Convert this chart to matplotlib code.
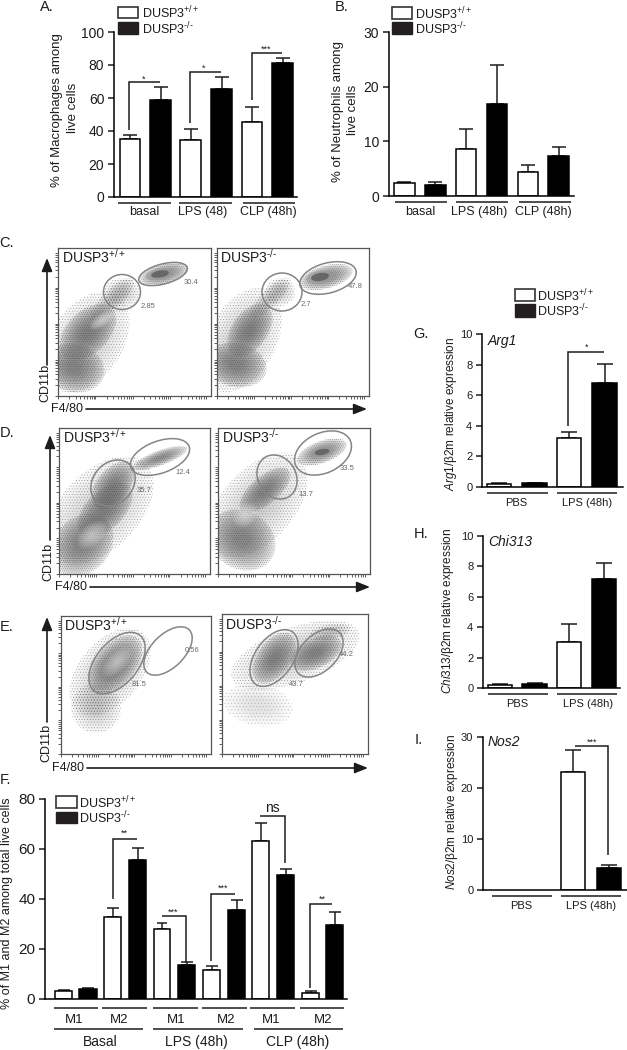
"""Multi-panel DUSP3 figure: bar charts A, B, F, G, H, I and flow panels C, D, E."""
import numpy as np
import matplotlib
matplotlib.use("Agg")
import matplotlib.pyplot as plt
from matplotlib.patches import Ellipse, Rectangle

W, H = 627, 1050
INK, GATE, DOT = "#1c1c1c", "#858585", "#6a6a6a"
plt.rcParams.update({"font.family": ["Liberation Sans", "DejaVu Sans"], "text.color": INK,
                     "mathtext.fontset": "custom", "mathtext.rm": "Liberation Sans",
                     "mathtext.it": "Liberation Sans:italic", "mathtext.default": "regular",
                     "axes.linewidth": 1.1, "xtick.color": INK, "ytick.color": INK,
                     "hatch.linewidth": 0.45})
WT, KO = "DUSP3$^{+/+}$", "DUSP3$^{\u2010/\u2010}$"

# bar values (means and upper error lengths)
A_MEAN = [35, 59, 34.5, 65.5, 45.5, 81.5]
A_ERR = [2.5, 7.5, 7, 7, 9, 2.5]
A_TICKS = [0, 20, 40, 60, 80, 100]
B_MEAN = [2.3, 2.0, 8.6, 16.8, 4.3, 7.3]
B_ERR = [0.3, 0.5, 3.6, 7.2, 1.3, 1.7]
B_TICKS = [0, 10, 20, 30]
F_MEAN = [3.3, 4.2, 33, 55.8, 28, 13.5, 11.5, 35.8, 63.3, 49.5, 2.5, 29.8]
F_ERR = [0.4, 0.3, 3.3, 4.7, 2.3, 1.3, 1.8, 3.9, 7.2, 2.7, 0.7, 5.2]
F_TICKS = [0, 20, 40, 60, 80]
G_MEAN = [0.2, 0.25, 3.2, 6.8]
G_ERR = [0.03, 0.03, 0.4, 1.25]
H_MEAN = [0.2, 0.25, 3.05, 7.15]
H_ERR = [0.05, 0.05, 1.17, 1.1]
GH_TICKS = [0, 2, 4, 6, 8, 10]
I_MEAN = [0, 0, 23.2, 4.4]
I_ERR = [0, 0, 4.3, 0.6]
I_TICKS = [0, 10, 20, 30]

# flow density patches: x, y, long, short, angle, kind
C_WT_CLOUD = [(86, 342, 112, 72, -55, "sparse"), (74, 368, 48, 62, -75, "dense"), (88, 332, 68, 42, -45, "dense"),
              (112, 300, 60, 20, -45, "sparse"), (122, 293, 36, 30, 0, "sparse"), (164, 274, 50, 21, -15, "dense"),
              (102, 320, 30, 13, -35, "hot"), (160, 274, 18, 7, -10, "core")]
C_KO_CLOUD = [(242, 340, 112, 68, -62, "sparse"), (236, 365, 44, 62, -78, "dense"), (250, 330, 60, 36, -55, "dense"),
              (270, 298, 55, 18, -45, "sparse"), (280, 292, 30, 28, 0, "sparse"), (326, 277, 55, 23, -15, "dense"),
              (320, 277, 18, 8, -10, "core")]
D_WT_CLOUD = [(100, 510, 130, 78, -45, "sparse"), (82, 545, 70, 55, -45, "dense"), (105, 510, 68, 38, -45, "dense"),
              (113, 485, 55, 32, -50, "dense"), (160, 458, 58, 15, -20, "dense"), (92, 535, 35, 22, -40, "hot")]
D_KO_CLOUD = [(258, 505, 125, 72, -48, "sparse"), (242, 540, 58, 70, -60, "dense"), (265, 490, 62, 28, -40, "dense"),
              (322, 452, 52, 22, -20, "dense"), (322, 452, 15, 6, -10, "core"), (245, 515, 28, 22, -40, "hot")]
E_WT_CLOUD = [(110, 672, 102, 62, -50, "sparse"), (96, 708, 50, 50, -60, "sparse"), (115, 665, 70, 40, -50, "dense"),
              (117, 662, 38, 20, -45, "hot")]
E_KO_CLOUD = [(295, 655, 135, 55, -20, "sparse"), (258, 705, 42, 70, -80, "faint"), (330, 632, 42, 15, -10, "sparse"),
              (274, 658, 58, 34, -55, "dense"), (316, 653, 55, 30, -25, "dense")]

# gates: x, y, long, short, angle
C_WT_GATES = [(122, 292, 37, 35, 0), (163, 274, 50, 20, -15)]
C_KO_GATES = [(282, 292, 40, 38, 0), (328, 278, 58, 30, -15)]
D_WT_GATES = [(113, 483, 50, 40, -50), (160, 457, 62, 32, -20)]
D_KO_GATES = [(277, 477, 46, 38, 60), (323, 453, 60, 40, -25)]
E_WT_GATES = [(117, 663, 72, 42, -50), (168, 651, 60, 33, -45)]
E_KO_GATES = [(274, 658, 64, 38, -55), (319, 653, 58, 36, -45)]

fig = plt.figure(figsize=(W / 100, H / 100), dpi=100, facecolor="white")


def px_axes(x0, x1, ytop, ybot, **kw):
    return fig.add_axes([x0 / W, 1 - ybot / H, (x1 - x0) / W, (ybot - ytop) / H], **kw)


ov = px_axes(0, W, 0, H, zorder=10)
ov.set_xlim(0, W); ov.set_ylim(H, 0); ov.axis("off"); ov.patch.set_alpha(0)


def txt(x, y, s, size=9.5, ha="center", **kw):
    ov.text(x, y, s, fontsize=size, ha=ha, va="center", **kw)


def seg(xs, ys, lw=1.1):
    ov.plot(xs, ys, color=INK, lw=lw, solid_capstyle="butt", solid_joinstyle="miter")


def arrow(x0, y0, x1, y1):
    ov.annotate("", xy=(x1, y1), xytext=(x0, y0),
                arrowprops=dict(arrowstyle="-|>,head_width=0.32,head_length=0.8", color=INK, lw=1.2,
                                shrinkA=0, shrinkB=0))


def legend(x0, x1, y0, y1, y2, y3, xt, size=9):
    ov.add_patch(Rectangle((x0, y0), x1 - x0, y1 - y0, fc="white", ec="#333333", lw=1.2))
    ov.add_patch(Rectangle((x0, y2), x1 - x0, y3 - y2, fc="#231f20", ec="#231f20", lw=1))
    txt(xt, (y0 + y1) / 2 + 1, WT, size, ha="left")
    txt(xt, (y2 + y3) / 2 + 1, KO, size, ha="left")


def bars(xleft, xright, y0, ytop, ymax, ticks, edges, means, errs, size=10):
    ax = px_axes(xleft, xright, ytop, y0)
    ax.set_xlim(xleft, xright); ax.set_ylim(0, ymax)
    lefts, rights = np.array(edges[0::2]), np.array(edges[1::2])
    mids, widths = (lefts + rights) / 2, rights - lefts
    cols = ["white" if i % 2 == 0 else "black" for i in range(len(means))]
    for m, w, v, e, c in zip(mids, widths, means, errs, cols):
        if v == 0:
            continue
        ax.errorbar(m, v, yerr=[[0], [e]], color=INK, lw=1.1, capsize=w * 0.24, capthick=1.1, zorder=1)
        ax.bar(m, v, w, color=c, edgecolor="black", lw=1.1, zorder=2)
    ax.set_yticks(ticks)
    ax.set_xticks([])
    ax.tick_params(axis="y", length=4, width=1.1, labelsize=size, pad=3)
    ax.spines[["top", "right"]].set_visible(False)
    ax.patch.set_alpha(0)
    return ax


def blob(ax, b):
    x, y, w, h, ang, kind = b
    if kind == "hot":
        for s in np.linspace(1, 0.15, 10):
            ax.add_patch(Ellipse((x, y), w * s, h * s, angle=ang, fc="#e8e8e8", ec="none", alpha=0.09))
        return
    if kind == "core":
        ax.add_patch(Ellipse((x, y), w * 1.6, h * 1.6, angle=ang, fc="#9a9a9a", ec="none", alpha=0.6))
        ax.add_patch(Ellipse((x, y), w, h, angle=ang, fc="#5c5c5c", ec="none", alpha=0.8))
        return
    alpha, hatch, ha = {"faint": (0.008, ".....", 0.25), "sparse": (0.02, "......", 0.42),
                        "dense": (0.07, "........", 0.5)}[kind]
    for s in np.linspace(1, 0.2, 16):
        ax.add_patch(Ellipse((x, y), w * s, h * s, angle=ang, fc=DOT, ec="none", alpha=alpha))
    ax.add_patch(Ellipse((x, y), w, h, angle=ang, fc="none", ec="#505050", lw=0, hatch=hatch, alpha=ha))


DECADES = np.array([d + np.log10(m) for d in range(4) for m in range(1, 10)]) / 4.1


def flow(x0, x1, y0, y1, cloud, gates, name, name_x, name_y, labels):
    ax = px_axes(x0, x1, y0, y1)
    ax.set_xlim(x0, x1); ax.set_ylim(y1, y0)
    for b in cloud:
        blob(ax, b)
    for x, y, w, h, a in gates:
        ax.add_patch(Ellipse((x, y), w, h, angle=a, fc="none", ec=GATE, lw=1.1))
    ax.set_xticks(x0 + DECADES * (x1 - x0)); ax.set_yticks(y1 - DECADES * (y1 - y0))
    ax.set_xticklabels([]); ax.set_yticklabels([])
    ax.tick_params(length=2, width=0.6, color="#444444")
    for s in ax.spines.values():
        s.set_color("#555555"); s.set_linewidth(0.9)
    txt(name_x, name_y, name, 10, ha="left")
    for x, y, s in labels:
        txt(x, y, s, 5.5, color="#6a6a6a")


# panel A
bars(114, 297, 197, 32, 100, A_TICKS, [119.5, 140, 150, 171, 180, 201, 211, 232, 242, 262, 272, 293], A_MEAN, A_ERR)
txt(47, 7, "A.", 10.5)
legend(118, 138, 7, 18, 22, 34, 142)
txt(57, 110, "% of Macrophages among", 9.5, rotation=90)
txt(73, 108, "live cells", 9.5, rotation=90)
for a, b, lab, x in [(118, 171, "basal", 144), (179, 232, "LPS (48)", 203), (243, 295, "CLP (48h)", 268)]:
    seg([a, b], [203, 203])
    txt(x, 212, lab, 9)
seg([129, 129, 160], [130, 82, 82]); txt(144, 79, "*", 6.5)
seg([190, 190, 221], [123, 72, 72]); txt(204, 68, "*", 6.5)
seg([252, 252, 282], [100, 53, 53]); txt(266, 49, "***", 6.5)

# panel B
bars(389, 574, 196, 32, 30, B_TICKS, [394, 415, 425, 446, 456, 476, 487, 507, 518, 538, 548, 569], B_MEAN, B_ERR)
txt(342, 7, "B.", 10.5)
legend(392, 412, 7, 19, 22, 34, 415)
txt(338, 112, "% of Neutrophils among", 9.5, rotation=90)
txt(353, 110, "live cells", 9.5, rotation=90)
for a, b, lab, x in [(395, 447, "basal", 420), (456, 508, "LPS (48h)", 479), (519, 571, "CLP (48h)", 543)]:
    seg([a, b], [202, 202])
    txt(x, 212, lab, 9)

# panels C, D, E
txt(7, 243, "C.", 10.5); txt(7, 433, "D.", 10.5); txt(7, 627, "E.", 10.5)
flow(58, 211, 248, 396, C_WT_CLOUD, C_WT_GATES, WT, 62, 257, [(148, 306, "2.85"), (191, 283, "30.4")])
flow(217, 369, 248, 396, C_KO_CLOUD, C_KO_GATES, KO, 220, 257, [(306, 305, "2.7"), (355, 286, "47.8")])
flow(59, 210, 428, 574, D_WT_CLOUD, D_WT_GATES, WT, 63, 437, [(183, 472, "12.4"), (144, 491, "35.7")])
flow(218, 370, 428, 574, D_KO_CLOUD, D_KO_GATES, KO, 222, 437, [(347, 468, "33.5"), (306, 494, "13.7")])
flow(61, 211, 616, 754, E_WT_CLOUD, E_WT_GATES, WT, 64, 625, [(192, 651, "0.56"), (139, 684, "81.5")])
flow(222, 368, 614, 754, E_KO_CLOUD, E_KO_GATES, KO, 225, 624, [(346, 655, "44.2"), (296, 685, "43.7")])
for xa, ytop, ybot, xl, yl, xf, yf, xs, xe in [(47, 258, 365, 45, 383, 67, 409, 86, 367),
                                              (50, 435, 540, 48, 562, 71, 587, 90, 370),
                                              (47, 617, 722, 46, 743, 68, 768, 87, 368)]:
    arrow(xa, ybot, xa, ytop)
    txt(xl, yl, "CD11b", 9, rotation=90)
    txt(xf, yf, "F4/80", 9)
    arrow(xs, yf, xe, yf)

# panel F
bars(45, 347, 999, 799, 80, F_TICKS,
     [55, 72, 79, 97, 104, 121, 129, 146, 154, 170, 178, 195, 203, 220, 228, 245, 252, 269, 277, 294, 302, 319, 326, 343],
     F_MEAN, F_ERR, size=11)
txt(5, 780, "F.", 10.5)
legend(56, 77, 796, 808, 812, 823, 79)
txt(7, 903, "% of M1 and M2 among total live cells", 9, rotation=90)
for a, b, lab, x in [(54, 98, "M1", 74), (102, 147, "M2", 119), (153, 198, "M1", 176),
                     (202, 247, "M2", 226), (250, 295, "M1", 271), (300, 344, "M2", 323)]:
    seg([a, b], [1008, 1008])
    txt(x, 1020, lab, 9.5)
for a, b, lab, x in [(54, 143, "Basal", 100), (153, 243, "LPS (48h)", 196), (254, 343, "CLP (48h)", 298)]:
    seg([a, b], [1029, 1029])
    txt(x, 1042, lab, 10)
seg([113, 113, 137], [899, 839, 839]); txt(124, 833, "**", 6.5)
seg([162, 186, 186], [916, 916, 963]); txt(173, 912, "***", 6.5)
seg([211, 211, 235], [961, 894, 894]); txt(223, 888, "***", 6.5)
seg([260, 285, 285], [816, 816, 863]); txt(272, 808, "ns", 10)
seg([310, 310, 332], [988, 904, 904]); txt(322, 899, "**", 6.5)

# panel G
bars(482, 623, 487, 334, 10, GH_TICKS, [487, 511, 522, 547, 557, 581, 592, 617], G_MEAN, G_ERR, size=8)
txt(421, 334, "G.", 10.5)
legend(515, 535, 289, 301, 304, 317, 537)
txt(451, 414, r"$\mathit{Arg1}$/β2m relative expression", 8.5, rotation=90)
txt(488, 341, "Arg1", 10, ha="left", style="italic")
for a, b, lab, x in [(487, 548, "PBS", 516), (557, 617, "LPS (48h)", 587)]:
    seg([a, b], [493, 493])
    txt(x, 503, lab, 8)
seg([568, 568, 604], [426, 352, 352]); txt(587, 347, "*", 6.5)

# panel H
bars(483, 620, 688, 536, 10, GH_TICKS, [488, 512, 522, 547, 557, 581, 592, 616], H_MEAN, H_ERR, size=8)
txt(421, 534, "H.", 10.5)
txt(448, 611, r"$\mathit{Chi313}$/β2m relative expression", 8.5, rotation=90)
txt(488, 542, "Chi313", 10, ha="left", style="italic")
for a, b, lab, x in [(488, 548, "PBS", 517), (557, 617, "LPS (48h)", 588)]:
    seg([a, b], [694, 694])
    txt(x, 704, lab, 8)

# panel I
bars(483, 627, 890, 737, 30, I_TICKS, [492, 516, 528, 552, 561, 585, 597, 621], I_MEAN, I_ERR, size=8)
txt(419, 740, "I.", 10.5)
txt(452, 812, r"$\mathit{Nos2}$/β2m relative expression", 8.5, rotation=90)
txt(488, 742, "Nos2", 10, ha="left", style="italic")
for a, b, lab, x in [(492, 552, "PBS", 521), (561, 621, "LPS (48h)", 591)]:
    seg([a, b], [896, 896])
    txt(x, 906, lab, 8)
seg([575, 608, 608], [746, 746, 855]); txt(592, 742, "***", 6.5)

fig.savefig("out.png", dpi=100, facecolor="white")
